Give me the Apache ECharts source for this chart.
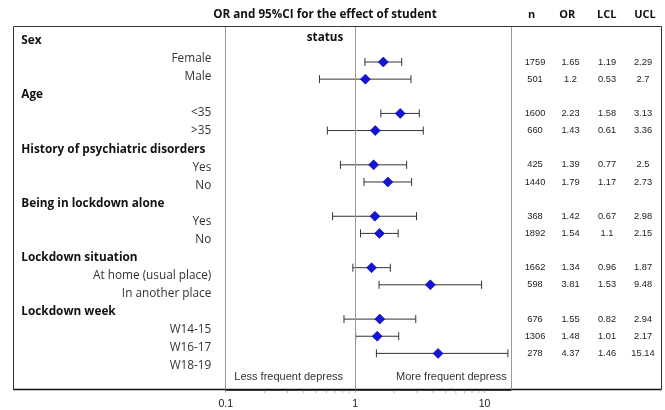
<!DOCTYPE html>
<html>
<head>
<meta charset="utf-8">
<script src="https://cdn.jsdelivr.net/npm/echarts@6/dist/echarts.min.js"></script>
<style>html,body{margin:0;padding:0;background:#fff;}#c{width:665px;height:410px;}</style>
</head>
<body>
<div id="c"></div>
<script>
// ---- data ----
var groups = ['Sex', 'Age', 'History of psychiatric disorders', 'Being in lockdown alone', 'Lockdown situation', 'Lockdown week'];
var subgroups = [['Female', 'Male'], ['<35', '>35'], ['Yes', 'No'], ['Yes', 'No'], ['At home (usual place)', 'In another place'], ['W14-15', 'W16-17', 'W18-19']];
var nVals  = [1759, 501, 1600, 660, 425, 1440, 368, 1892, 1662, 598, 676, 1306, 278];
var orVals = [1.65, 1.2, 2.23, 1.43, 1.39, 1.79, 1.42, 1.54, 1.34, 3.81, 1.55, 1.48, 4.37];
var lclVals = [1.19, 0.53, 1.58, 0.61, 0.77, 1.17, 0.67, 1.1, 0.96, 1.53, 0.82, 1.01, 1.46];
var uclVals = [2.29, 2.7, 3.13, 3.36, 2.5, 2.73, 2.98, 2.15, 1.87, 9.48, 2.94, 2.17, 15.14];
var colHeaders = ['n', 'OR', 'LCL', 'UCL'];
var xTickLabels = ['0.1', '1', '10'];
var minorTickVals = [0.2, 0.3, 0.4, 0.5, 0.6, 0.7, 0.8, 0.9, 2, 3, 4, 5, 6, 7, 8, 9];
var titleText = 'OR and 95%CI for the effect of student';
var titleText2 = 'status';
var lessText = 'Less frequent depress';
var moreText = 'More frequent depress';

// ---- build rows ----
var rowLabels = [], rowIsHeader = [], dataRow = [];
groups.forEach(function (g, gi) {
  rowLabels.push(g); rowIsHeader.push(true);
  subgroups[gi].forEach(function (s) {
    dataRow.push(rowLabels.length);
    rowLabels.push(s); rowIsHeader.push(false);
  });
});
var nRows = rowLabels.length;
var rowIdx = rowLabels.map(function (_, i) { return String(i); });
function tableCol(arr) {
  var out = rowLabels.map(function () { return ''; });
  dataRow.forEach(function (r, k) { out[r] = String(arr[k]); });
  return out;
}
var tblN = tableCol(nVals), tblOR = tableCol(orVals), tblL = tableCol(lclVals), tblU = tableCol(uclVals);

var ciData = dataRow.map(function (r, k) { return [lclVals[k], uclVals[k], r]; });
var ptData = dataRow.map(function (r, k) { return [orVals[k], r]; });

// ---- layout ----
var PL = 225.7, PR = 511, FT = 27, FB = 389.5;
var ROW0 = 44.86, ROWH = 17.14;
var yMin = (FT - ROW0) / ROWH, yMax = (FB - ROW0) / ROWH;
var tblTop = ROW0 - ROWH / 2;
var LROW0 = 40.8, LROWH = 18.06;
var lblTop = LROW0 - LROWH / 2;
var numFont = 'Liberation Sans';
var lblFont = 'Open Sans';

function tableAxis(arr, center) {
  return {
    type: 'category', gridIndex: 2, position: 'right', inverse: true, data: rowIdx,
    axisLine: {show: false, onZero: false}, axisTick: {show: false}, splitLine: {show: false},
    axisLabel: {
      interval: 0, align: 'center', margin: center - PR, fontSize: 9.3, color: '#222', fontFamily: numFont,
      formatter: function (v, i) { return arr[i]; }
    }
  };
}

var chart = echarts.init(document.getElementById('c'), null, {renderer: 'canvas'});
chart.setOption({
  animation: false,
  backgroundColor: '#fff',
  grid: [
    {left: PL, right: 665 - PR, top: FT, bottom: 410 - FB},
    {left: 215, width: 1, top: lblTop, height: LROWH * nRows},
    {left: PL, right: 665 - PR, top: tblTop, height: ROWH * nRows}
  ],
  xAxis: [
    {
      type: 'log', logBase: 10, min: 0.1, max: 16, gridIndex: 0, position: 'bottom',
      axisLine: {show: true, onZero: false, lineStyle: {color: '#111', width: 1.5}},
      axisTick: {show: true, length: 3, lineStyle: {color: '#999'}},
      splitLine: {show: false},
      axisLabel: {
        fontSize: 10.5, color: '#222', fontFamily: numFont, margin: 9, showMaxLabel: false,
        formatter: function (v) {
          var i = Math.round(Math.log10(v)) + 1;
          return xTickLabels[i] !== undefined ? xTickLabels[i] : '';
        }
      }
    },
    {type: 'value', gridIndex: 1, show: false, axisLine: {onZero: false}},
    {type: 'value', gridIndex: 2, show: false, axisLine: {onZero: false}}
  ],
  yAxis: [
    {type: 'value', gridIndex: 0, min: yMin, max: yMax, inverse: true, show: false, axisLine: {onZero: false}},
    {
      type: 'category', gridIndex: 1, inverse: true, data: rowIdx, position: 'left',
      axisLine: {show: false, onZero: false}, axisTick: {show: false},
      axisLabel: {
        interval: 0, align: 'right', margin: 3.7, fontSize: 11.8, color: '#333', fontFamily: lblFont,
        formatter: function (v, i) { return rowIsHeader[i] ? '' : rowLabels[i]; }
      }
    },
    {
      type: 'category', gridIndex: 1, inverse: true, data: rowIdx, position: 'left',
      axisLine: {show: false, onZero: false}, axisTick: {show: false},
      axisLabel: {
        interval: 0, align: 'left', margin: 215 - 21.3, fontSize: 11.8, fontWeight: 'bold', color: '#111', fontFamily: lblFont,
        formatter: function (v, i) { return rowIsHeader[i] ? rowLabels[i] : ''; }
      }
    },
    tableAxis(tblN, 535),
    tableAxis(tblOR, 570.5),
    tableAxis(tblL, 607),
    tableAxis(tblU, 643)
  ],
  graphic: [
    {type: 'rect', shape: {x: 13.5, y: FT - 0.5, width: 648, height: FB - FT + 0.5}, style: {fill: 'none', stroke: '#333', lineWidth: 1}, z: 0},
    {type: 'line', shape: {x1: 13.5, y1: FB, x2: 661.5, y2: FB}, style: {stroke: '#111', lineWidth: 1.5}, z: 1},
    {type: 'text', x: 325, y: 15, style: {text: titleText, font: 'bold 11.7px "Open Sans"', align: 'center', verticalAlign: 'middle', fill: '#111'}},
    {type: 'text', x: 325, y: 37.3, style: {text: titleText2, font: 'bold 11.7px "Open Sans"', align: 'center', verticalAlign: 'middle', fill: '#111'}},
    {type: 'text', x: 531.7, y: 15, style: {text: colHeaders[0], font: 'bold 11px "Open Sans"', align: 'center', verticalAlign: 'middle', fill: '#111'}},
    {type: 'text', x: 567.3, y: 15, style: {text: colHeaders[1], font: 'bold 11px "Open Sans"', align: 'center', verticalAlign: 'middle', fill: '#111'}},
    {type: 'text', x: 606.7, y: 15, style: {text: colHeaders[2], font: 'bold 11px "Open Sans"', align: 'center', verticalAlign: 'middle', fill: '#111'}},
    {type: 'text', x: 645, y: 15, style: {text: colHeaders[3], font: 'bold 11px "Open Sans"', align: 'center', verticalAlign: 'middle', fill: '#111'}},
    {type: 'text', x: 288.7, y: 376.7, style: {text: lessText, font: '11px "Liberation Sans"', align: 'center', verticalAlign: 'middle', fill: '#333'}},
    {type: 'text', x: 451.3, y: 376.7, style: {text: moreText, font: '11px "Liberation Sans"', align: 'center', verticalAlign: 'middle', fill: '#333'}}
  ],
  series: [
    {
      type: 'custom', xAxisIndex: 0, yAxisIndex: 0, data: ciData, z: 3,
      encode: {x: [0, 1], y: 2},
      renderItem: function (params, api) {
        var lo = api.value(0), hi = api.value(1), row = api.value(2);
        var a = api.coord([lo, row]);
        var b = api.coord([hi, row]);
        var st = {stroke: '#333', lineWidth: 1};
        return {type: 'group', children: [
          {type: 'line', shape: {x1: a[0], y1: a[1], x2: b[0], y2: b[1]}, style: st},
          {type: 'line', shape: {x1: a[0], y1: a[1] - 4, x2: a[0], y2: a[1] + 4}, style: st},
          {type: 'line', shape: {x1: b[0], y1: b[1] - 4, x2: b[0], y2: b[1] + 4}, style: st}
        ]};
      }
    },
    {
      type: 'scatter', xAxisIndex: 0, yAxisIndex: 0, data: ptData, z: 4,
      symbol: 'diamond', symbolSize: [10, 10],
      itemStyle: {color: '#1414d8', borderColor: '#0000a0', borderWidth: 0.6, opacity: 1},
      markLine: {
        silent: true, symbol: 'none', label: {show: false},
        lineStyle: {color: '#999', width: 1, type: 'solid'},
        data: [{xAxis: 0.1}, {xAxis: 1}, {xAxis: 16}]
      }
    },
    {
      type: 'scatter', xAxisIndex: 0, yAxisIndex: 0, clip: false, silent: true, z: 2,
      data: minorTickVals.map(function (v) { return [v, yMax]; }),
      symbol: 'rect', symbolSize: [1, 2.5], symbolOffset: [0, 2.5],
      itemStyle: {color: '#aaa'}
    }
  ]
});
</script>
</body>
</html>
